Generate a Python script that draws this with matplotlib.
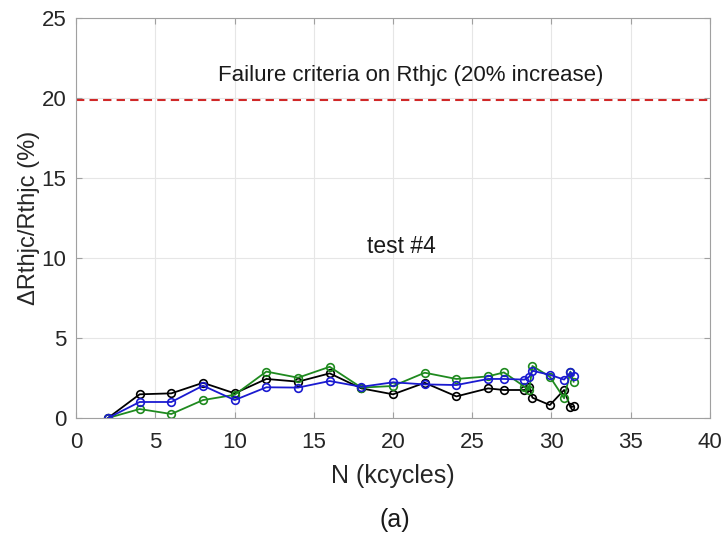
import matplotlib.pyplot as plt
import numpy as np

plt.rcParams['font.family'] = ['Liberation Sans', 'DejaVu Sans']

# kcycles at which Rthjc was measured
n_kcycles = [2, 4, 6, 8, 10, 12, 14, 16, 18, 20, 22, 24, 26, 27,
             28.3, 28.6, 28.8, 29.9, 30.8, 31.2, 31.4]

# Delta Rthjc / Rthjc (%) for the three devices
d_black = [0, 1.48, 1.54, 2.2, 1.54, 2.44, 2.27, 2.79, 1.85, 1.48, 2.2,
           1.35, 1.85, 1.75, 1.75, 1.95, 1.27, 0.81, 1.75, 0.68, 0.72]
d_green = [0, 0.56, 0.25, 1.12, 1.45, 2.9, 2.52, 3.2, 1.9, 2.0, 2.83,
           2.44, 2.6, 2.85, 1.96, 1.75, 3.25, 2.58, 1.23, 2.9, 2.27]
d_blue = [0, 1.0, 1.0, 2.02, 1.12, 1.92, 1.9, 2.31, 1.95, 2.23, 2.1,
          2.06, 2.44, 2.44, 2.4, 2.58, 2.95, 2.7, 2.4, 2.85, 2.65]

limite = 19.9  # failure criteria (20% increase)

fig = plt.figure(figsize=(7.28, 5.35), dpi=100)
ax = fig.add_axes([0.1048, 0.2187, 0.8702, 0.7477])

ax.axhline(limite, color='#d02828', linestyle='--', linewidth=1.5, dashes=(4, 2.5))

for valores, color in [(d_black, 'black'), (d_green, '#1f8a1f'), (d_blue, '#1a1ad0')]:
    ax.plot(n_kcycles, valores, color=color, linewidth=1.3, marker='o',
            markersize=5.5, markerfacecolor='none', markeredgewidth=1.2)

ax.set_xlim(0, 40)
ax.set_ylim(0, 25)
ax.set_xticks(np.arange(0, 41, 5))
ax.set_yticks(np.arange(0, 26, 5))
ax.grid(True, color='#e6e6e6', linewidth=0.8)
ax.set_axisbelow(True)
ax.tick_params(direction='in', top=True, right=True, labelsize=16,
               colors='#262626', length=4, width=0.8)
ax.tick_params(axis='x', pad=10)
ax.tick_params(axis='y', pad=7)
ax.tick_params(axis='both', color='#a0a0a0')
for s in ax.spines.values():
    s.set_color('#a0a0a0')
    s.set_linewidth(0.8)

ax.set_xlabel('N (kcycles)', fontsize=18, color='#262626', labelpad=8)
ax.set_ylabel('ΔRthjc/Rthjc (%)', fontsize=17, color='#262626', labelpad=1)

ax.text(21.1, 21.4, 'Failure criteria on Rthjc (20% increase)', fontsize=16,
        ha='center', va='center', color='#1a1a1a')
ax.text(20.5, 10.7, 'test #4', fontsize=16.5, ha='center', va='center', color='#1a1a1a')
fig.text(0.543, 0.028, '(a)', fontsize=18, ha='center', va='center', color='#1a1a1a')

fig.savefig('out.png', dpi=100)
